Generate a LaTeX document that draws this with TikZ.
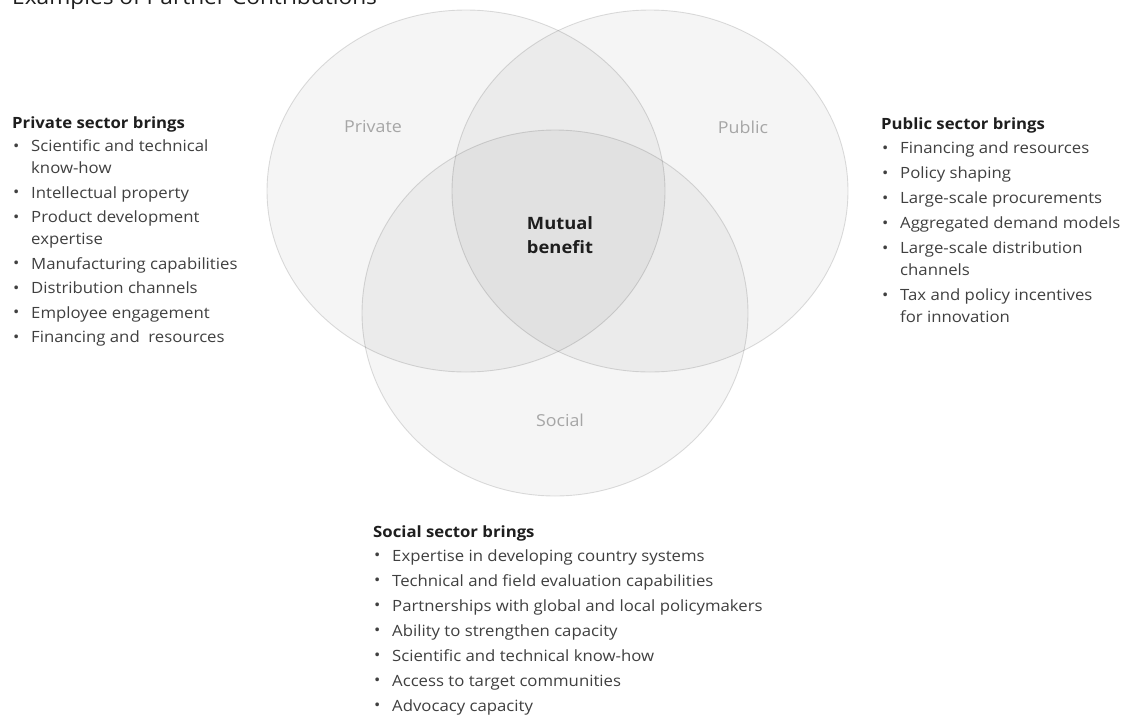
\documentclass[tikz,border=0pt]{standalone}
\usepackage{fontspec}
\setmainfont[FakeStretch=1.08]{Open Sans}
\usetikzlibrary{shapes.geometric}
\definecolor{headtext}{HTML}{1E1E1E}
\definecolor{itemtext}{HTML}{404040}
\definecolor{venntext}{HTML}{A6A6A6}
\newcommand{\bul}[1]{\makebox[19pt][l]{\hspace*{1pt}\raisebox{0.5pt}{\textbullet}}#1}
\newcommand{\cnt}[1]{\hspace*{19pt}#1}
\begin{document}
\begin{tikzpicture}[x=1pt,y=-1pt,
  venn/.style={ellipse, draw=black, draw opacity=0.13, line width=0.9pt,
    fill=black, fill opacity=0.04, inner sep=0pt},
  vennlabel/.style={text=venntext, font=\fontsize{16.5}{19}\selectfont},
  listbox/.style={anchor=north west, inner sep=0pt, align=left, text=itemtext,
    font=\fontsize{15.5}{22}\selectfont},
  titletext/.style={anchor=base west, inner sep=0pt, text=headtext,
    font=\fontsize{21}{24}\selectfont}]
\useasboundingbox (0,0) rectangle (1124,715);
\fill[white] (0,0) rectangle (1124,715);

% heading, running off the top edge
\node[titletext] (title) at (12,4) {Examples of Partner Contributions};

% the three sectors
\node[venn, minimum width=398pt, minimum height=362pt] (private) at (466,191) {};
\node[venn, minimum width=396pt, minimum height=362pt] (public) at (650,191) {};
\node[venn, minimum width=386pt, minimum height=366pt] (social) at (555,313) {};

\node[vennlabel] (privlab) at (373,127) {Private};
\node[vennlabel] (publab) at (743,127) {Public};
\node[vennlabel] (soclab) at (560,420) {Social};
\node[align=center, text=headtext, font=\bfseries\fontsize{17}{24}\selectfont]
  (mutual) at (560,235) {Mutual\\benefit};

% contributions of each sector
\node[listbox] (privlist) at (12,117) {%
  {\color{headtext}\bfseries Private sector brings}\\[1pt]
  \bul{Scientific and technical}\\
  \cnt{know-how}\\[2.5pt]
  \bul{Intellectual property}\\[2.5pt]
  \bul{Product development}\\
  \cnt{expertise}\\[2.5pt]
  \bul{Manufacturing capabilities}\\[2.5pt]
  \bul{Distribution channels}\\[2.5pt]
  \bul{Employee engagement}\\[2.5pt]
  \bul{Financing and\ \ resources}};

\node[listbox] (publist) at (881,118) {%
  {\color{headtext}\bfseries Public sector brings}\\[2pt]
  \bul{Financing and resources}\\[3pt]
  \bul{Policy shaping}\\[3pt]
  \bul{Large-scale procurements}\\[3pt]
  \bul{Aggregated demand models}\\[3pt]
  \bul{Large-scale distribution}\\
  \cnt{channels}\\[3pt]
  \bul{Tax and policy incentives}\\
  \cnt{for innovation}};

\node[listbox] (soclist) at (373,526) {%
  {\color{headtext}\bfseries Social sector brings}\\[1.5pt]
  \bul{Expertise in developing country systems}\\[3pt]
  \bul{Technical and field evaluation capabilities}\\[3pt]
  \bul{Partnerships with global and local policymakers}\\[3pt]
  \bul{Ability to strengthen capacity}\\[3pt]
  \bul{Scientific and technical know-how}\\[3pt]
  \bul{Access to target communities}\\[3pt]
  \bul{Advocacy capacity}};
\end{tikzpicture}
\end{document}
